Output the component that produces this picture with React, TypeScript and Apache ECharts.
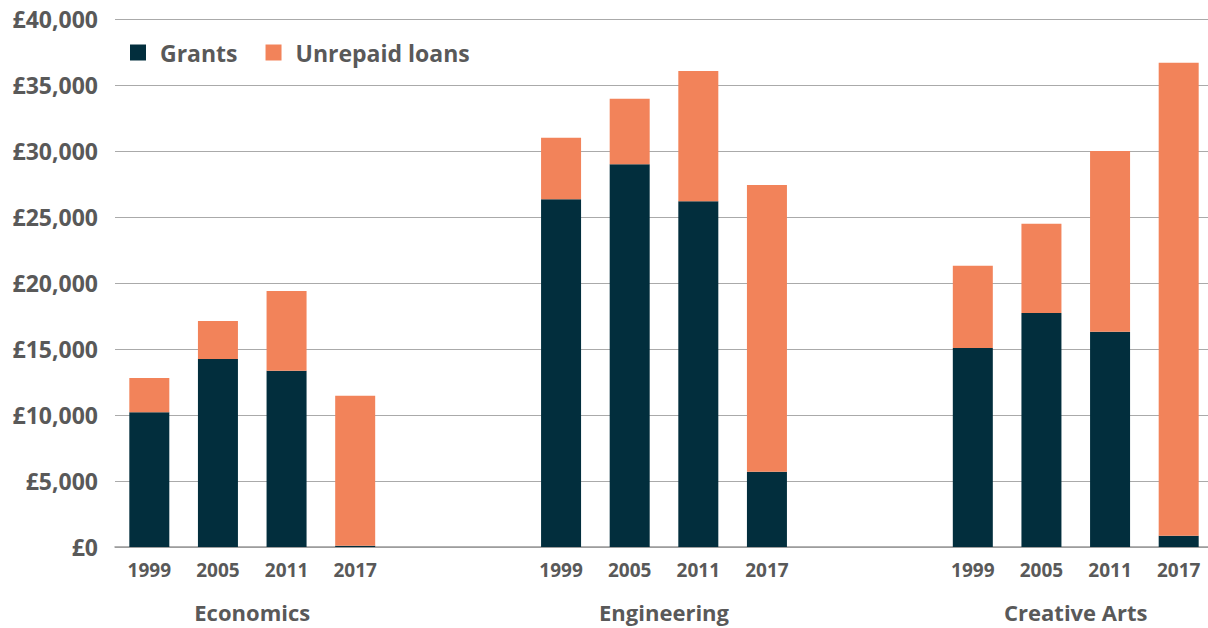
import React, { useEffect, useRef } from "react";
import * as echarts from "echarts";

const groups = ["Economics", "Engineering", "Creative Arts"];
const years = ["1999", "2005", "2011", "2017"];
const grants = [
  [10200, 14250, 13350, 100],
  [26350, 29000, 26200, 5700],
  [15080, 17730, 16300, 860],
];
const unrepaidLoans = [
  [2600, 2870, 6050, 11350],
  [4650, 4950, 9870, 21730],
  [6220, 6750, 13700, 35820],
];
const yTicks = [0, 5000, 10000, 15000, 20000, 25000, 30000, 35000, 40000];

const FONT = "Open Sans";
const TEXT = "#595959";
const NAVY = "#022E3D";
const ORANGE = "#F2835A";

export default function App() {
  const ref = useRef<HTMLDivElement>(null);
  useEffect(() => {
    if (!ref.current) return;
    const chart = echarts.init(ref.current, undefined, { renderer: "svg" });
    const cats: string[] = [];
    const g: (number | null)[] = [];
    const l: (number | null)[] = [];
    const groupCenters: number[] = [];
    groups.forEach((_, gi) => {
      if (gi > 0) {
        cats.push(" ", "  ");
        g.push(null, null);
        l.push(null, null);
      }
      const start = cats.length;
      years.forEach((y, yi) => {
        cats.push(y);
        g.push(grants[gi][yi]);
        l.push(unrepaidLoans[gi][yi]);
      });
      groupCenters.push(start + years.length / 2);
    });
    const nSlots = cats.length;
    chart.setOption({
      animation: false,
      grid: { left: 115, right: 0, top: 19, bottom: 81 },
      legend: {
        left: 125,
        top: 36,
        itemWidth: 16,
        itemHeight: 16,
        itemGap: 28,
        icon: "rect",
        textStyle: {
          fontFamily: FONT,
          fontWeight: "bold",
          fontSize: 23,
          color: TEXT,
          padding: [0, 0, 0, 9],
        },
        data: ["Grants", "Unrepaid loans"],
      },
      xAxis: [
        {
          type: "category",
          data: cats,
          axisLine: { lineStyle: { color: "#999", width: 1.5 } },
          axisTick: { show: false },
          axisLabel: {
            interval: 0,
            margin: 13,
            fontFamily: FONT,
            fontWeight: "bold",
            fontSize: 19,
            color: TEXT,
          },
        },
        {
          type: "value",
          position: "bottom",
          min: 0,
          max: nSlots,
          axisLine: { show: false },
          axisTick: { show: false },
          splitLine: { show: false },
          axisLabel: {
            customValues: groupCenters,
            margin: 54,
            fontFamily: FONT,
            fontWeight: "bold",
            fontSize: 22,
            color: TEXT,
            formatter: (v: number) => groups[groupCenters.indexOf(v)] ?? "",
          },
        },
      ],
      yAxis: {
        type: "value",
        min: 0,
        max: 40000,
        interval: 5000,
        axisLine: { show: false },
        axisTick: { show: false },
        splitLine: { lineStyle: { color: "#aaa", width: 1 } },
        axisLabel: {
          customValues: yTicks,
          margin: 17,
          fontFamily: FONT,
          fontWeight: "bold",
          fontSize: 23,
          color: TEXT,
          formatter: (v: number) => "£" + v.toLocaleString("en-GB"),
        },
      },
      series: [
        {
          name: "Grants",
          type: "bar",
          stack: "total",
          data: g,
          barWidth: 40,
          itemStyle: { color: NAVY },
        },
        {
          name: "Unrepaid loans",
          type: "bar",
          stack: "total",
          data: l,
          barWidth: 40,
          itemStyle: { color: ORANGE },
        },
      ],
    });
    return () => chart.dispose();
  }, []);
  return (
    <div
      ref={ref}
      style={{ position: "fixed", left: 0, top: 0, width: 1213, height: 628, background: "#fff" }}
    />
  );
}
